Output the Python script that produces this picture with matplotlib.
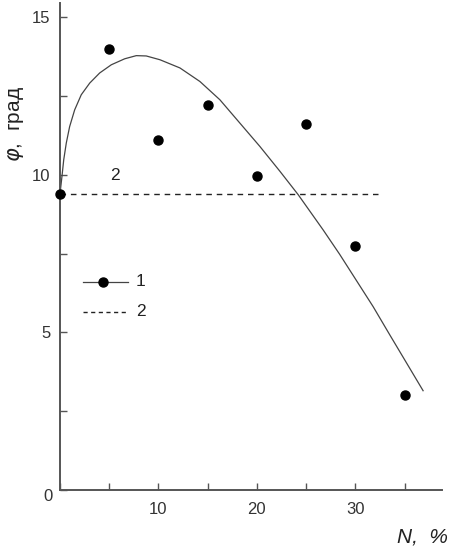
import matplotlib
matplotlib.use("Agg")
import matplotlib.pyplot as plt
from matplotlib.ticker import MultipleLocator

plt.rcParams['font.family'] = ['Liberation Sans', 'DejaVu Sans']
plt.rcParams['mathtext.fontset'] = 'dejavusans'

# experimental points (series 1)
N_points = [0, 5, 10, 15, 20, 25, 30, 35]
phi_points = [9.4, 14.0, 11.1, 12.2, 9.97, 11.6, 7.75, 3.0]

# approximating curve
N_curve = [0.0, 0.2, 0.38, 0.64, 0.98, 1.49, 2.16, 3.02, 4.03, 5.21, 6.57,
           7.75, 8.76, 10.15, 12.18, 14.21, 16.24, 18.27, 20.30, 22.34,
           24.19, 26.73, 28.4, 30.12, 31.8, 33.50, 35.2, 36.88]
phi_curve = [9.4, 9.95, 10.48, 11.01, 11.53, 12.06, 12.54, 12.91, 13.23,
             13.49, 13.68, 13.78, 13.77, 13.65, 13.39, 12.96, 12.38, 11.64,
             10.90, 10.11, 9.37, 8.25, 7.48, 6.64, 5.82, 4.92, 4.03, 3.15]

# reference level (series 2)
N_ref = [0, 32.3]
phi_ref = [9.4, 9.4]

x_major = [10, 20, 30]
y_major = [0, 5, 10, 15]
y_labels = ['', '5', '10', '15']

fig = plt.figure(figsize=(4.52, 5.47), dpi=100)
ax = fig.add_axes([60/452, 57/547, (442-60)/452, (490-3)/547])

spine_c = '#555555'
ax.plot(N_curve, phi_curve, color='#444444', lw=0.9, zorder=2)
ax.plot(N_ref, phi_ref, color='#222222', lw=1.0, dashes=(4, 3.5), zorder=2)
ax.plot(N_points, phi_points, 'o', color='black', ms=6.5, zorder=3, clip_on=False)

ax.set_xlim(0, 38.8)
ax.set_ylim(0, 15.45)

for s in ['top', 'right']:
    ax.spines[s].set_visible(False)
for s in ['left', 'bottom']:
    ax.spines[s].set_color(spine_c)
    ax.spines[s].set_linewidth(1.4)

ax.set_xticks(x_major)
ax.xaxis.set_minor_locator(MultipleLocator(5))
ax.set_yticks(y_major)
ax.set_yticklabels(y_labels)
ax.yaxis.set_minor_locator(MultipleLocator(2.5))
ax.tick_params(axis='both', which='both', direction='in', color=spine_c,
               labelsize=12, labelcolor='#333333', width=1.0)
ax.tick_params(axis='both', which='major', length=5)
ax.tick_params(axis='both', which='minor', length=5)
ax.tick_params(axis='x', pad=9)
ax.tick_params(axis='y', pad=7)

ax.annotate('0', xy=(0, 0), xytext=(-5, -5), textcoords='offset points',
            ha='right', va='center', fontsize=12, color='#333333')

fig.text(448/452, 1 - 537/547, 'N,  %', ha='right', va='center',
         fontsize=15, style='italic', color='#222222')
fig.text(16/452, 1 - 124/547, r'$\varphi$,  град', rotation=90, ha='center', va='center',
         fontsize=15, color='#222222')

ax.text(5.6, 9.97, '2', fontsize=12.5, ha='center', va='center', color='#222222')

# legend drawn manually in axes coordinates
lx0, lx1 = (83-60)/382, (128-60)/382
ly1 = (490-281.7)/487
ly2 = (490-311.7)/487
ax.plot([lx0, lx1], [ly1, ly1], transform=ax.transAxes, color='#444444', lw=0.9)
ax.plot([(lx0+lx1)/2*0.88+lx0*0.12], [ly1], 'o', transform=ax.transAxes, color='black', ms=6.5)
ax.plot([lx0, lx1], [ly2, ly2], transform=ax.transAxes, color='#222222', lw=1.0, dashes=(3, 2.5))
ax.text(lx1 + 0.02, ly1, '1', transform=ax.transAxes, fontsize=12.5, va='center', color='#222222')
ax.text(lx1 + 0.02, ly2, '2', transform=ax.transAxes, fontsize=12.5, va='center', color='#222222')

fig.savefig('out.png', dpi=100)
